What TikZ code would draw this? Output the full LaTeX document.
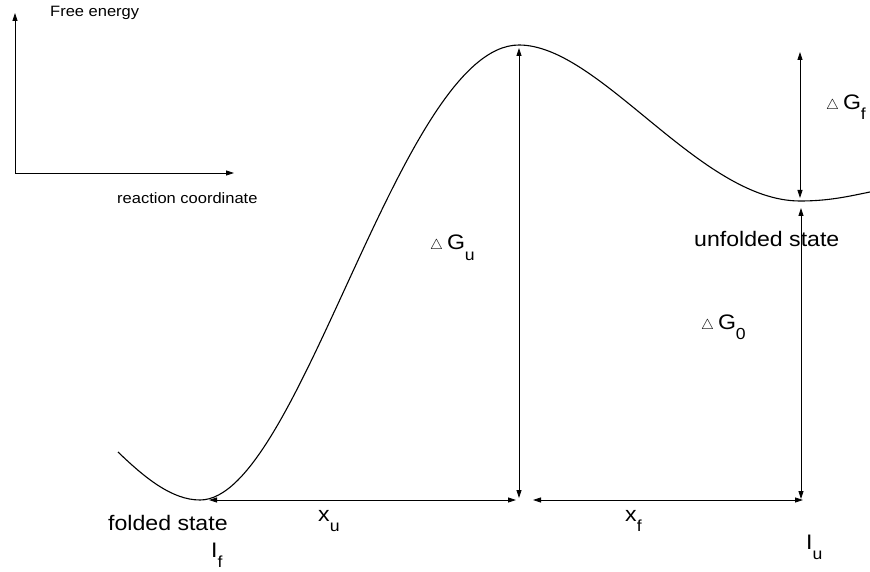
\documentclass[tikz,border=0pt]{standalone}
\usepackage{fontspec}
\setmainfont[FakeStretch=1.1]{Liberation Sans}
\usetikzlibrary{arrows.meta}
\newcommand{\sm}{\fontsize{15}{15}\selectfont}
\newcommand{\bg}{\fontsize{21}{21}\selectfont}
\newcommand{\tri}{{\fontsize{14}{14}\selectfont$\triangle$}\hspace{4pt}}
\newcommand{\sub}[1]{\raisebox{-10pt}{\fontsize{16}{16}\selectfont #1}}
\begin{document}
\begin{tikzpicture}[x=1pt,y=-1pt,
  tip/.style={-{Triangle[length=8pt,width=5pt]}},
  dbl/.style={{Triangle[length=8pt,width=5pt]}-{Triangle[length=8pt,width=5pt]}, line width=0.8pt},
  small/.style={inner sep=0pt, font=\sm},
  big/.style={inner sep=0pt, font=\bg}]
\useasboundingbox (0,0) rectangle (870,572);
% axes
\coordinate (o) at (15,173);
\coordinate (yend) at (15,13);
\coordinate (xend) at (234,173);
\draw[tip, line width=0.8pt] (o) -- (yend);
\draw[tip, line width=0.8pt] (o) -- (xend);
\node[small, anchor=base west] (fe) at (50,17) {Free energy};
\node[small, anchor=base west] (rc) at (117,204) {reaction coordinate};
% energy curve
\coordinate (fstart) at (118,452);
\coordinate (fmin) at (200,500);
\coordinate (peak) at (519,45);
\coordinate (umin) at (800,201);
\coordinate (uend) at (870,192);
\draw[line width=1.1pt] (fstart) .. controls (145,478) and (172,500) .. (fmin)
  .. controls (300,500) and (400,45) .. (peak)
  .. controls (600,45) and (700,201) .. (umin)
  .. controls (830,201) and (850,196) .. (uend);
% measurement arrows
\coordinate (pk) at (519,48);
\coordinate (pb) at (519,498);
\coordinate (ut) at (800,52);
\coordinate (ub) at (800,198);
\coordinate (gt) at (801,208);
\coordinate (gb) at (801,499);
\coordinate (xl) at (209,500);
\coordinate (xm) at (516,500);
\coordinate (xn) at (533,500);
\coordinate (xr) at (803,500);
\draw[dbl] (pb) -- (pk);
\draw[dbl] (ub) -- (ut);
\draw[dbl] (gb) -- (gt);
\draw[dbl] (xl) -- (xm);
\draw[dbl] (xn) -- (xr);
% labels
\node[big, anchor=base west] (dgu) at (430,250) {\tri G\sub{u}};
\node[big, anchor=base west] (dgf) at (826,110) {\tri G\sub{f}};
\node[big, anchor=base west] (dg0) at (701,329) {\tri G\sub{0}};
\node[big, anchor=base west] (us) at (694,247) {unfolded state};
\node[big, anchor=base west] (fs) at (108,530) {folded state};
\node[big, anchor=base west] (xu) at (318,521) {x\sub{u}};
\node[big, anchor=base west] (xf) at (625,521) {x\sub{f}};
\node[big, anchor=base west] (if) at (211,557) {I\sub{f}};
\node[big, anchor=base west] (iu) at (806,549) {I\sub{u}};
\end{tikzpicture}
\end{document}
